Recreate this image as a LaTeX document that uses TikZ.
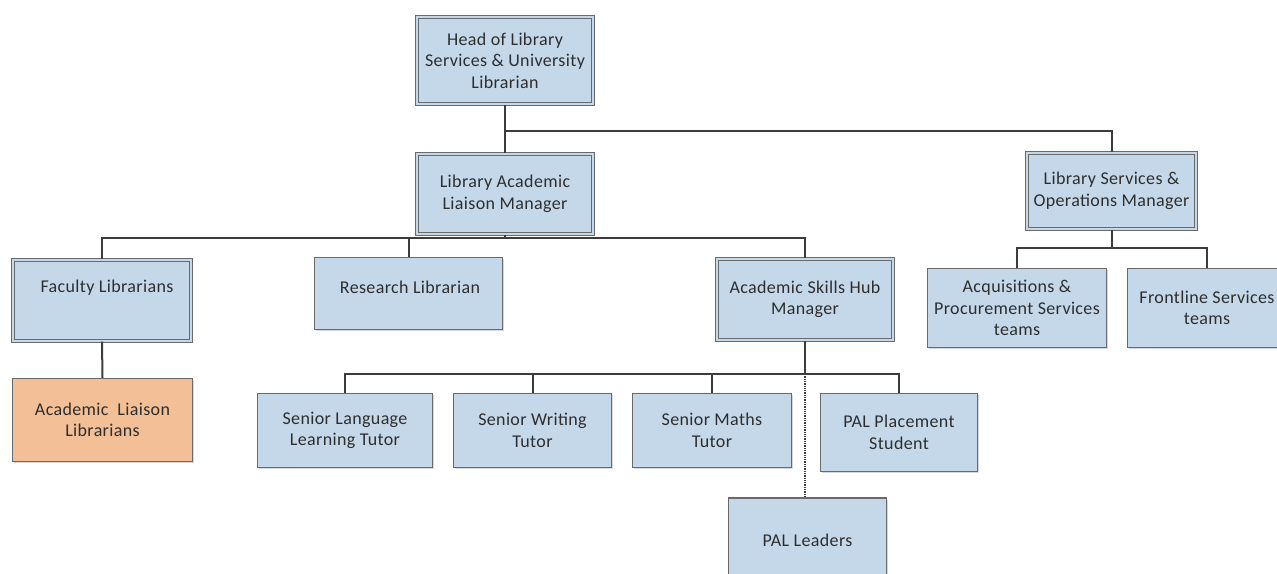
\documentclass[tikz,border=0pt]{standalone}
\usepackage{fontspec}
\setmainfont[LetterSpace=2]{Carlito}
\usetikzlibrary{shadows}
\definecolor{boxfill}{HTML}{C5D8EA}
\definecolor{orangefill}{HTML}{F2BF96}
\definecolor{bordergray}{HTML}{6A6A6A}
\definecolor{linegray}{HTML}{3C3C3C}
\definecolor{txtgray}{HTML}{2E2E2E}
\begin{document}
\begin{tikzpicture}[x=1pt,y=-1pt,
  box/.style={rectangle, draw=bordergray, line width=1.3pt, fill=boxfill,
    text=txtgray, align=center, inner sep=0pt,
    font=\fontsize{18}{21.5}\selectfont,
    drop shadow={shadow xshift=1.5pt, shadow yshift=-1.5pt, fill=black!30, opacity=0.5}},
  dbox/.style={box, line width=1.3pt, double=boxfill, double distance=2pt},
  obox/.style={box, fill=orangefill},
  txt/.style={text=txtgray, align=center, inner sep=0pt, font=\fontsize{18}{21.5}\selectfont},
  conn/.style={draw=linegray, line width=2pt},
  dconn/.style={draw=linegray, line width=1.3pt, densely dotted}
]
\useasboundingbox (0,0) rectangle (1277,573);
\clip (0,0) rectangle (1277,573);

% junctions
\coordinate (j1) at (505,131);
\coordinate (j2) at (505,238);
\coordinate (j3) at (805,374);
\coordinate (j4) at (1111.5,248);

% boxes
\node[dbox, minimum width=176pt, minimum height=87pt] (head) at (505,60.5)
  {Head of Library\\Services \& University\\Librarian};
\node[dbox, minimum width=176pt, minimum height=80pt] (lal) at (505,194)
  {Library Academic\\Liaison Manager};
\node[dbox, minimum width=169pt, minimum height=76pt] (lso) at (1111.5,191)
  {Library Services \&\\Operations Manager};
\node[dbox, minimum width=178pt, minimum height=81pt] (fac) at (102,300.5) {};
\node[txt] (facT) at (107,288) {Faculty Librarians};
\node[box, minimum width=188pt, minimum height=72pt] (res) at (408.5,293.5) {};
\node[txt] (resT) at (410,287) {Research Librarian};
\node[dbox, minimum width=176pt, minimum height=81pt] (ash) at (805,299.5)
  {Academic Skills Hub\\Manager};
\node[obox, minimum width=180pt, minimum height=83pt] (all) at (102.5,420)
  {Academic~~Liaison\\Librarians};
\node[box, minimum width=175pt, minimum height=74pt] (sllt) at (345,430.5)
  {Senior Language\\Learning Tutor};
\node[box, minimum width=158pt, minimum height=74pt] (swt) at (532.5,430.5)
  {Senior Writing\\Tutor};
\node[box, minimum width=159pt, minimum height=74pt] (smt) at (712,430.5)
  {Senior Maths\\Tutor};
\node[box, minimum width=157pt, minimum height=78pt] (pps) at (899,432.5)
  {PAL Placement\\Student};
\node[box, minimum width=158pt, minimum height=84pt] (pall) at (807.5,540)
  {PAL Leaders};
\node[box, minimum width=179pt, minimum height=79pt] (acq) at (1017,308)
  {Acquisitions \&\\Procurement Services\\teams};
\node[box, minimum width=159pt, minimum height=79pt] (fro) at (1207,308)
  {Frontline Services\\teams};

% connectors
\draw[conn] (head.south) -- (lal.north);
\draw[conn] (j1) -| (lso.north);
\draw[conn] (lal.south) -- (j2);
\draw[conn] (j2) -| (fac.north);
\draw[conn] (j2) -| (res.north);
\draw[conn] (j2) -| (ash.north);
\draw[conn] (fac.south) -- (all.north);
\draw[conn] (ash.south) -- (j3);
\draw[conn] (j3) -| (sllt.north);
\draw[conn] (j3) -| (swt.north);
\draw[conn] (j3) -| (smt.north);
\draw[conn] (j3) -| (pps.north);
\draw[dconn] (j3) -- (j3 |- pall.north);
\draw[conn] (lso.south) -- (j4);
\draw[conn] (j4) -| (acq.north);
\draw[conn] (j4) -| (fro.north);
\end{tikzpicture}
\end{document}
